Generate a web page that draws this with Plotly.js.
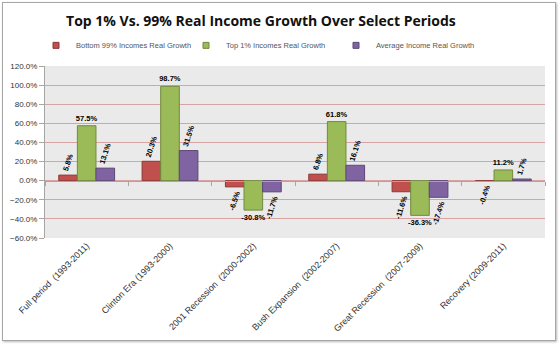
<!DOCTYPE html>
<html>
<head>
<meta charset="utf-8">
<script src="https://cdn.plot.ly/plotly-3.0.1.min.js"></script>
<style>
html,body{margin:0;padding:0;background:#fff;}
#wrap{position:relative;width:560px;height:344px;}
#chart{width:560px;height:344px;}
#frame{position:absolute;left:2px;top:2px;width:552px;height:337px;border:1px solid #a6a6a6;box-shadow:1px 1px 2px #bbb;pointer-events:none;}
</style>
</head>
<body>
<div id="wrap"><div id="chart"></div><div id="frame"></div></div>
<script>
const categories = [
  "Full period  (1993-2011)",
  "Clinton Era (1993-2000)",
  "2001 Recession  (2000-2002)",
  "Bush Expansion  (2002-2007)",
  "Great Recession  (2007-2009)",
  "Recovery (2009-2011)"
];
const bottom99 = [5.8, 20.3, -6.5, 6.8, -11.6, -0.4];
const top1 = [57.5, 98.7, -30.8, 61.8, -36.3, 11.2];
const average = [13.1, 31.5, -11.7, 16.1, -17.4, 1.7];
const seriesNames = ["Bottom 99% Incomes Real Growth", "Top 1% Incomes Real Growth", "Average Income Real Growth"];
const seriesColors = ["#C0504D", "#9BBB59", "#8064A2"];
const seriesLines = ["#8C3836", "#71893F", "#5C4776"];

function lbl(arr){ return arr.map(v => v.toFixed(1) + "%"); }
const labelFont = {family: "Liberation Sans, Arial, sans-serif", size: 7.5, color: "#000", weight: "bold"};

function bar(i, vals, angle){
  return {
    type: "bar", name: seriesNames[i], x: categories, y: vals,
    marker: {color: seriesColors[i], line: {color: seriesLines[i], width: 1}},
    text: lbl(vals), textposition: "outside", textangle: angle,
    textfont: labelFont, constraintext: "none", cliponaxis: false,
    hoverinfo: "skip", showlegend: false
  };
}
function legendEntry(i){
  return {
    type: "scatter", mode: "markers", name: seriesNames[i], x: [null], y: [null],
    xaxis: "x2",
    marker: {symbol: "square", size: 6, color: seriesColors[i], line: {color: seriesLines[i], width: 1}},
    hoverinfo: "skip", showlegend: true
  };
}

const data = [
  bar(0, bottom99, -72),
  bar(1, top1, 0),
  bar(2, average, -72),
  legendEntry(0), legendEntry(1), legendEntry(2)
];

const layout = {
  width: 560, height: 344,
  margin: {l: 45, r: 15, t: 66, b: 106},
  paper_bgcolor: "#ffffff",
  plot_bgcolor: "#eaeaea",
  font: {family: "Liberation Sans, Arial, sans-serif", color: "#444"},
  title: {
    text: "<b>Top 1% Vs. 99% Real Income Growth Over Select Periods</b>",
    font: {family: "Open Sans, sans-serif", size: 14, color: "#111"},
    x: 0.466, xanchor: "center", y: 0.94, yanchor: "middle"
  },
  barmode: "group",
  bargap: 0.33, bargroupgap: 0,
  showlegend: true,
  legend: {
    orientation: "h", x: -0.018, xanchor: "left", y: 1.12, yanchor: "middle",
    font: {size: 7.5, color: "#555"}, entrywidth: 105, entrywidthmode: "pixels",
    itemwidth: 30, traceorder: "normal", bgcolor: "rgba(0,0,0,0)"
  },
  xaxis: {
    type: "category", tickangle: -45,
    tickmode: "array", tickvals: categories,
    ticktext: categories.map(s => s.replace("  ", " \u00a0")),
    tickfont: {size: 9, color: "#333"},
    showgrid: false, zeroline: false, showline: false, ticks: ""
  },
  xaxis2: {
    overlaying: "x", anchor: "free", position: 1/3,
    range: [-0.5, categories.length - 0.5], tick0: 0.5, dtick: 1,
    showticklabels: false, showgrid: false, zeroline: false,
    showline: true, linecolor: "#a6a6a6", linewidth: 1,
    ticks: "outside", ticklen: 4, tickcolor: "#a6a6a6"
  },
  yaxis: {
    range: [-60, 120], dtick: 20, tick0: 0,
    ticksuffix: "%", tickformat: ".1f",
    tickfont: {size: 8, color: "#333"},
    gridcolor: "#d9a3a3", gridwidth: 1,
    zeroline: false,
    showline: true, linecolor: "#a6a6a6", linewidth: 1,
    ticks: "outside", ticklen: 5, tickcolor: "#a6a6a6"
  }
};

Plotly.newPlot("chart", data, layout, {staticPlot: true, displayModeBar: false});
</script>
</body>
</html>
